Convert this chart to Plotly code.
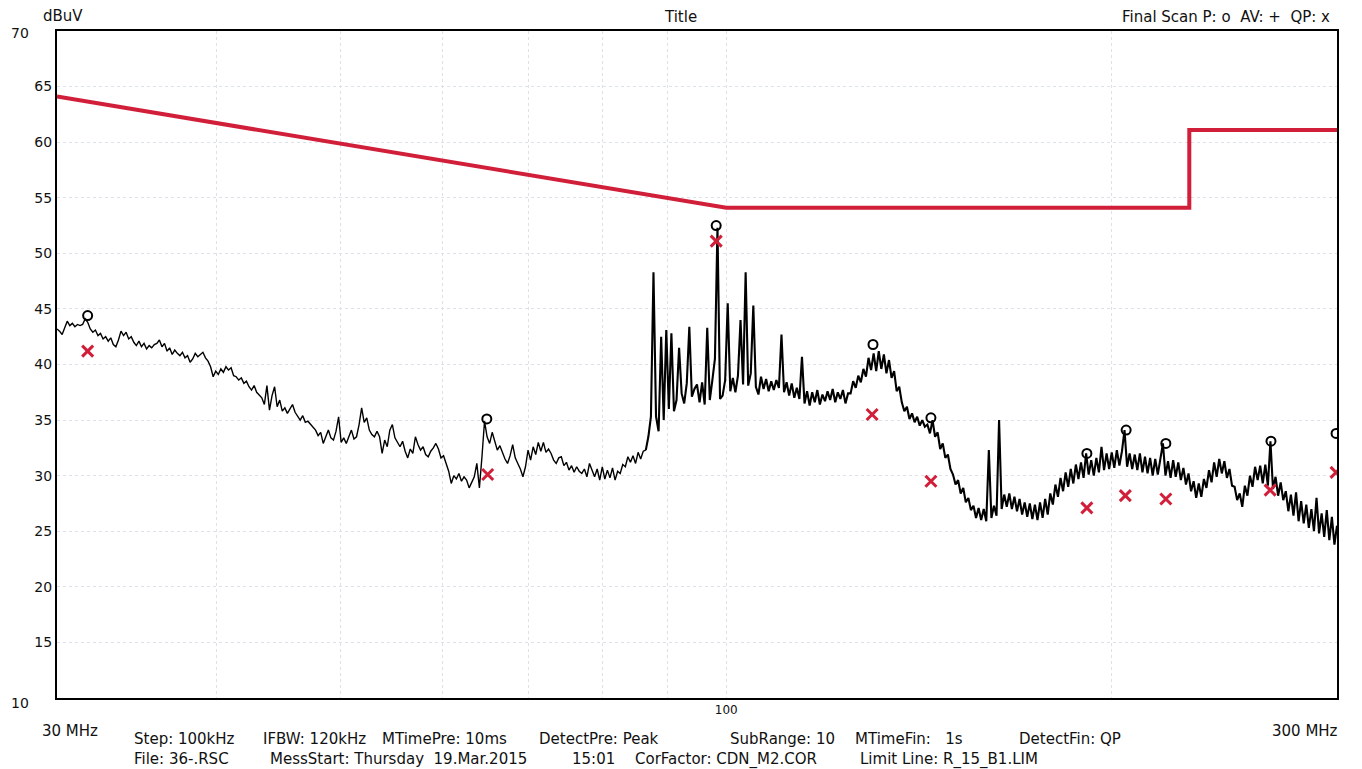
import numpy as np
import plotly.graph_objects as go

# ---------------- data ----------------
# Limit line (R_15_B1.LIM)
limit_freq = [30, 100, 230, 230, 300]
limit_level = [64.1, 54.1, 54.1, 61.1, 61.1]

# Final scan: peak (o) and quasi-peak (x)
peak_freq = [31.7, 65.0, 98.2, 130.2, 144.5, 191.3, 205.3, 220.5, 266.4, 299.5]
peak_level = [44.4, 35.1, 52.5, 41.8, 35.2, 32.0, 34.1, 32.9, 33.1, 33.8]
qp_freq = [31.7, 65.1, 98.2, 130.0, 144.5, 191.3, 205.0, 220.5, 266.0, 299.5]
qp_level = [41.2, 30.1, 51.1, 35.5, 29.5, 27.1, 28.2, 27.9, 28.7, 30.3]

# Pre-scan trace (dBuV), sweep 30 -> 300 MHz
trace_level = [
    43.2, 43.0, 42.7, 43.3, 43.9, 43.5, 43.7, 43.4, 43.6, 43.5,
    43.6, 44.1, 43.8, 43.2, 42.9, 43.1, 42.6, 42.8, 42.3, 42.5,
    42.1, 42.4, 41.8, 41.6, 42.2, 43.0, 42.6, 42.9, 42.3, 42.5,
    42.0, 41.7, 42.1, 41.6, 41.9, 41.4, 41.7, 41.5, 41.8, 41.9,
    42.2, 41.6, 41.9, 41.2, 41.5, 40.9, 41.3, 41.0, 40.8, 41.1,
    40.6, 40.8, 40.2, 40.5, 41.0, 40.7, 40.9, 41.1, 40.6, 40.3,
    39.8, 38.9, 39.4, 39.1, 39.6, 39.3, 39.8, 39.5, 39.7, 39.0,
    38.9, 38.6, 38.8, 38.3, 38.5, 38.0, 37.7, 38.1, 37.5, 37.2,
    37.0, 36.4, 38.1, 35.9, 37.2, 38.0, 36.2, 36.8, 35.8, 36.1,
    35.6, 36.0, 36.4, 35.7, 35.3, 35.0, 35.4, 34.8, 34.9, 34.6,
    34.4, 34.1, 33.6, 33.9, 32.9, 33.5, 34.1, 33.4, 33.2, 34.0,
    35.3, 33.0, 33.4, 32.9, 33.6, 34.1, 33.3, 33.5, 34.6, 36.1,
    34.8, 35.2, 34.1, 33.7, 33.5, 34.0, 33.5, 32.0, 33.2, 32.6,
    34.1, 34.6, 33.4, 33.0, 32.6, 33.1, 32.2, 31.6, 32.4, 32.0,
    33.5, 32.8, 32.3, 32.6, 31.9, 31.7, 32.2, 32.5, 32.9, 32.4,
    31.6, 31.8, 31.1, 30.4, 29.3, 30.0, 29.7, 30.2, 29.5, 29.9,
    29.6, 28.9, 29.4, 29.9, 31.1, 28.9, 31.7, 34.9, 33.5, 32.9,
    33.9, 33.2, 32.3, 32.7, 32.0, 31.5, 31.1, 31.8, 32.8, 31.6,
    31.1, 30.6, 29.9, 30.8, 32.3, 31.4, 32.6, 31.9, 33.0, 32.2,
    33.0, 32.1, 32.4, 32.0, 31.4, 31.1, 31.6, 31.7, 30.9, 31.2,
    30.5, 30.9, 30.3, 30.8, 30.4, 30.2, 30.6, 29.9, 31.1, 30.5,
    29.9, 30.6, 29.6, 30.8, 29.7, 30.5, 29.8, 30.7, 29.6, 30.4,
    30.2, 31.0, 30.8, 31.7, 31.2, 31.8, 31.1, 32.1, 31.5, 32.2,
    32.3, 33.5, 35.3, 48.3, 35.3, 34.0, 42.5, 35.0, 43.1, 36.0,
    42.8, 35.8, 36.8, 41.5, 37.4, 36.5, 38.3, 43.4, 37.1, 37.8,
    38.2, 36.6, 38.4, 36.4, 43.3, 36.8, 38.6, 40.5, 52.3, 36.9,
    37.2, 38.6, 45.5, 37.6, 38.8, 37.5, 39.0, 44.0, 38.2, 48.3,
    38.1, 39.2, 45.3, 38.0, 37.3, 38.9, 37.8, 38.7, 37.6, 38.5,
    37.7, 38.6, 37.9, 42.7, 37.5, 38.4, 37.2, 38.3, 37.0, 37.9,
    36.9, 40.7, 36.5, 37.6, 36.3, 37.5, 36.6, 37.7, 36.4, 37.3,
    36.7, 37.6, 36.8, 37.8, 36.6, 37.5, 36.9, 37.7, 36.5, 37.4,
    37.4, 38.5, 37.9, 39.0, 38.4, 39.6, 38.9, 40.6, 39.5, 41.0,
    39.4, 41.2, 39.6, 40.9, 39.2, 40.4, 38.8, 39.4, 37.6, 38.0,
    36.6, 35.8, 36.2, 35.1, 35.6, 34.8, 35.3, 34.5, 35.0, 34.4,
    34.6, 33.8, 35.0, 33.5, 33.9, 32.4, 32.9, 31.6, 31.9, 30.6,
    30.1, 29.2, 29.6, 28.4, 28.9, 27.6, 28.0, 26.9, 27.3, 26.2,
    27.1, 26.0, 27.0, 25.9, 32.3, 26.2, 27.3, 26.4, 35.0, 27.0,
    28.3, 27.2, 28.4, 27.0, 28.1, 26.8, 27.9, 26.5, 27.6, 26.3,
    27.5, 26.1, 27.4, 26.0, 27.6, 26.2, 27.9, 26.5, 28.4, 27.4,
    29.2, 28.1, 29.8, 28.6, 30.3, 29.0, 30.6, 29.3, 31.0, 29.7,
    31.2, 29.8, 32.0, 30.1, 31.4, 30.0, 31.6, 30.3, 32.6, 30.5,
    32.0, 30.6, 32.1, 30.7, 32.3, 30.9, 32.2, 34.1, 30.8, 32.0,
    30.6, 31.9, 30.5, 32.0, 30.3, 31.7, 30.2, 31.6, 30.0, 31.5,
    30.1, 31.5, 32.9, 30.0, 31.3, 29.8, 31.4, 29.9, 31.2, 29.6,
    30.7, 29.2, 30.2, 28.6, 29.5, 28.0, 29.3, 28.1, 29.7, 28.9,
    30.5, 29.4, 31.2, 29.9, 31.5, 30.2, 31.3, 29.8, 30.6, 29.1,
    29.0, 27.8, 28.4, 27.2, 29.1, 28.2, 30.0, 29.0, 30.8, 29.6,
    30.9, 29.3, 31.0, 29.1, 33.1, 28.8, 29.9, 28.2, 29.4, 27.8,
    28.6, 26.8, 28.3, 26.4, 28.5, 25.9, 27.7, 25.7, 27.4, 25.3,
    27.0, 25.0, 28.0, 24.8, 26.6, 24.5, 26.9, 24.2, 26.3, 23.8,
    25.5,
]
trace_freq = np.geomspace(30, 300, len(trace_level))
DENSE_FROM = 230   # index where the pre-scan trace turns into a dense band

y_ticks = [15, 20, 25, 30, 35, 40, 45, 50, 55, 60, 65]
x_grid = [40, 50, 60, 70, 80, 90, 100, 200]
x_grid_text = ["", "", "", "", "", "", "100", ""]

footer_line1 = [(132, "Step: 100kHz"), (261, "IFBW: 120kHz"), (380, "MTimePre: 10ms"),
                (537, "DetectPre: Peak"), (728, "SubRange: 10"), (853, "MTimeFin:   1s"),
                (1017, "DetectFin: QP")]
footer_line2 = [(132, "File: 36-.RSC"), (268, "MessStart: Thursday  19.Mar.2015"),
                (570, "15:01"), (633, "CorFactor: CDN_M2.COR"),
                (858, "Limit Line: R_15_B1.LIM")]

# ---------------- figure ----------------
OFF = 8                      # page body margin
W, H = 1362 - OFF, 769 - OFF
L, R, T, B = 57, 1337, 31, 698   # plot area in page pixels
FONT = "DejaVu Sans, Liberation Sans, sans-serif"
RED = "#d11f3a"


def px(x):
    return (x - L) / (R - L)


def py(y):
    return (B - y) / (B - T)


fig = go.Figure()
fig.add_trace(go.Scatter(x=trace_freq[:DENSE_FROM + 1], y=trace_level[:DENSE_FROM + 1],
                         mode="lines", line=dict(color="#000000", width=1.4),
                         hoverinfo="skip"))
fig.add_trace(go.Scatter(x=trace_freq[DENSE_FROM:], y=trace_level[DENSE_FROM:],
                         mode="lines", line=dict(color="#000000", width=2.1),
                         hoverinfo="skip"))
fig.add_trace(go.Scatter(x=limit_freq, y=limit_level, mode="lines",
                         line=dict(color=RED, width=4)))
fig.add_trace(go.Scatter(x=peak_freq, y=peak_level, mode="markers",
                         marker=dict(symbol="circle-open", size=9, color="#000000",
                                     line=dict(width=2, color="#000000"))))
fig.add_trace(go.Scatter(x=qp_freq, y=qp_level, mode="markers",
                         marker=dict(symbol="x-thin", size=11, color=RED,
                                     line=dict(width=3, color=RED))))

ann = []


def text(x, y, s, anchor="center", size=15):
    ann.append(dict(x=px(x), y=py(y), xref="paper", yref="paper", text=s,
                    showarrow=False, xanchor=anchor, yanchor="middle",
                    font=dict(family=FONT, size=size, color="#111111")))


text(63, 16, "dBuV")
text(680, 17, "Title")
text(1332, 17, "Final Scan P: o  AV: +  QP: x", anchor="right")
text(20, 33, "70", size=14)
text(9, 703, "10", anchor="left", size=14)
text(70, 731, "30 MHz")
text(1305, 731, "300 MHz")
for x, s in footer_line1:
    text(x, 739, s, anchor="left")
for x, s in footer_line2:
    text(x, 759, s, anchor="left")

fig.update_layout(
    width=W, height=H,
    margin=dict(l=L - OFF, r=W - (R - OFF), t=T - OFF, b=H - (B - OFF)),
    paper_bgcolor="white", plot_bgcolor="white",
    showlegend=False,
    annotations=ann,
    font=dict(family=FONT, size=13, color="#111111"),
)
fig.update_xaxes(type="log", range=[np.log10(30), np.log10(300)],
                 tickvals=x_grid, ticktext=x_grid_text, ticks="",
                 showgrid=True, gridcolor="#dde2ea", griddash="dot", gridwidth=1,
                 showline=True, linecolor="#000000", linewidth=2, mirror=True,
                 zeroline=False, tickfont=dict(size=12))
fig.update_yaxes(range=[10, 70], tickvals=y_ticks, ticks="",
                 showgrid=True, gridcolor="#dde2ea", griddash="dot", gridwidth=1,
                 showline=True, linecolor="#000000", linewidth=2, mirror=True,
                 zeroline=False, tickfont=dict(size=14))

fig.write_html("out.html")
